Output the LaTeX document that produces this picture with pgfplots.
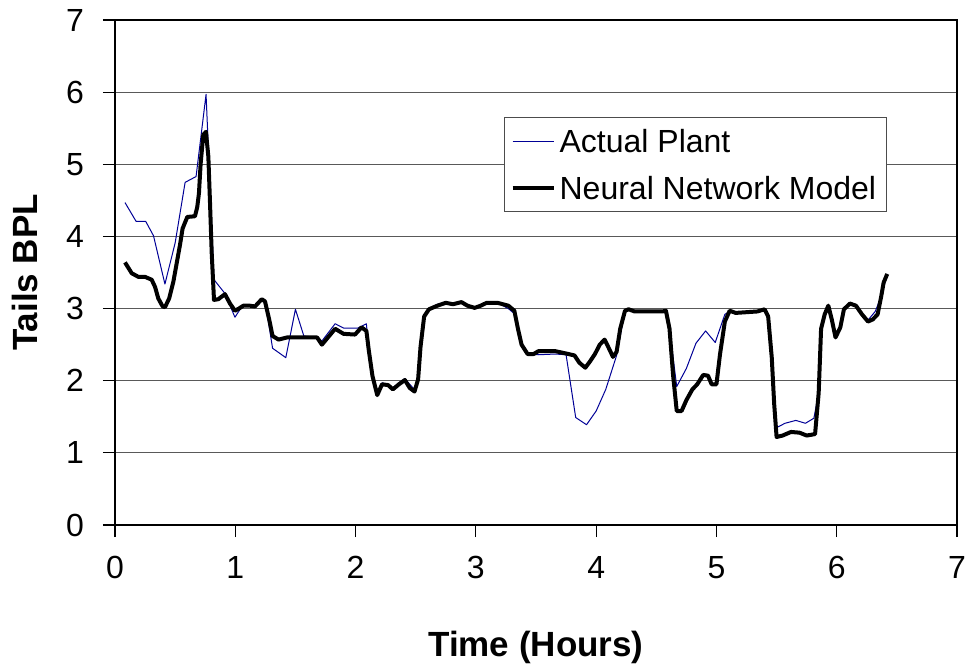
\documentclass[border=0pt]{standalone}
\usepackage{pgfplots}
\pgfplotsset{compat=1.18}
\usepackage{fontspec}
\setmainfont{Liberation Sans}
\definecolor{plantblue}{RGB}{0,0,150}
\begin{document}
\begin{tikzpicture}
\useasboundingbox (0,0) rectangle (483.5pt,332.5pt);
\begin{axis}[
  at={(57.5pt,70pt)}, anchor=south west,
  scale only axis, width=421pt, height=252.5pt,
  xmin=0, xmax=7, ymin=0, ymax=7,
  xtick={0,...,7}, ytick={0,...,7},
  tick align=outside, xtick pos=left, ytick pos=left,
  major tick length=6pt,
  tick style={black, line width=0.6pt},
  axis line style={black, line width=0.6pt},
  ymajorgrids, grid style={black!65, line width=0.6pt},
  /pgf/number format/assume math mode=true,
  ticklabel style={font=\fontsize{16}{19}\selectfont},
  xticklabel style={yshift=-6pt},
  yticklabel style={xshift=-6pt},
  xlabel={\textbf{Time (Hours)}},
  ylabel={\textbf{Tails BPL}},
  label style={font=\fontsize{17.5}{21}\selectfont},
  xlabel style={at={(axis description cs:0.5,-0.2607)}, anchor=base},
  ylabel style={at={(axis description cs:-0.0926,0.5)}, anchor=base},
  legend style={at={(axis description cs:0.462,0.808)}, anchor=north west,
    font=\fontsize{16}{19}\selectfont, draw=black!70, line width=0.6pt,
    fill=white, inner xsep=3pt, inner ysep=4pt, row sep=8pt,
    nodes={inner sep=2pt, text height=11.5pt, text depth=0pt}},
  legend cell align=left,
  legend image code/.code={\draw[#1] (0pt,0pt) -- (20.5pt,0pt);},
]
\addplot[plantblue, line width=0.5pt, line join=round] coordinates {
(0.083,4.47)(0.175,4.21)(0.255,4.21)(0.320,4.01)(0.415,3.34)(0.500,3.91)
(0.583,4.75)(0.674,4.83)(0.757,5.97)(0.823,3.40)(0.914,3.21)(0.997,2.88)
(1.06,3.04)(1.09,3.04)(1.164,3.03)(1.22,3.11)(1.25,3.08)(1.31,2.45)
(1.42,2.32)(1.50,2.99)(1.57,2.62)(1.68,2.60)(1.72,2.55)(1.83,2.79)
(1.90,2.73)(2.02,2.73)(2.09,2.79)(2.11,2.42)(2.14,2.07)(2.18,1.82)
(2.22,1.97)(2.27,1.95)(2.31,1.90)(2.36,1.97)(2.41,2.03)(2.45,1.95)
(2.49,1.88)(2.52,2.02)(2.54,2.47)(2.57,2.89)(2.61,3.00)(2.68,3.06)
(2.75,3.09)(2.81,3.07)(2.88,3.10)(2.93,3.05)(2.99,3.02)(3.04,3.05)
(3.09,3.08)(3.18,3.08)(3.27,3.00)(3.32,2.93)(3.35,2.70)(3.38,2.48)
(3.43,2.37)(3.52,2.36)(3.66,2.37)(3.75,2.36)(3.83,1.49)(3.92,1.39)
(4.00,1.58)(4.08,1.88)(4.17,2.35)(4.24,2.97)(4.27,2.98)(4.32,2.95)
(4.55,2.95)(4.58,2.96)(4.61,2.72)(4.67,1.92)(4.75,2.17)(4.83,2.52)
(4.91,2.69)(4.99,2.53)(5.07,2.92)(5.11,2.96)(5.16,2.93)(5.34,2.95)
(5.40,2.98)(5.43,2.89)(5.46,2.32)(5.50,1.35)(5.57,1.41)(5.66,1.45)
(5.74,1.41)(5.81,1.48)(5.85,1.83)(5.87,2.72)(5.90,2.92)(5.93,3.04)
(5.96,2.84)(5.99,2.60)(6.03,2.74)(6.06,2.99)(6.11,3.06)(6.16,3.03)
(6.21,2.90)(6.26,2.84)(6.32,2.96)(6.37,3.17)(6.42,3.48)
};
\addlegendentry{Actual Plant}
\addplot[black, line width=2pt, line join=round] coordinates {
(0.083,3.64)(0.139,3.49)(0.194,3.44)(0.249,3.44)(0.305,3.40)(0.333,3.30)
(0.360,3.14)(0.396,3.03)(0.416,3.02)(0.450,3.14)(0.485,3.37)(0.513,3.63)
(0.540,3.88)(0.562,4.11)(0.601,4.27)(0.665,4.28)(0.684,4.41)(0.698,4.60)
(0.712,5.01)(0.734,5.41)(0.756,5.45)(0.776,5.11)(0.790,4.46)(0.804,3.77)
(0.823,3.12)(0.859,3.13)(0.914,3.20)(0.956,3.07)(0.997,2.97)(1.030,3.00)
(1.067,3.04)(1.122,3.04)(1.164,3.03)(1.220,3.13)(1.247,3.10)(1.283,2.84)
(1.31,2.62)(1.36,2.57)(1.43,2.60)(1.68,2.60)(1.72,2.50)(1.77,2.60)
(1.83,2.72)(1.90,2.65)(1.995,2.64)(2.05,2.74)(2.09,2.69)(2.11,2.42)
(2.14,2.07)(2.18,1.80)(2.22,1.95)(2.27,1.94)(2.31,1.88)(2.36,1.95)
(2.41,2.01)(2.45,1.90)(2.49,1.85)(2.52,2.02)(2.54,2.47)(2.57,2.89)
(2.61,2.99)(2.68,3.04)(2.75,3.08)(2.81,3.06)(2.88,3.09)(2.93,3.04)
(2.99,3.01)(3.04,3.04)(3.09,3.08)(3.18,3.08)(3.27,3.04)(3.32,2.97)
(3.35,2.72)(3.38,2.50)(3.43,2.37)(3.48,2.37)(3.52,2.41)(3.66,2.41)
(3.77,2.37)(3.82,2.35)(3.86,2.25)(3.91,2.18)(3.95,2.27)(3.99,2.37)
(4.03,2.50)(4.07,2.57)(4.10,2.47)(4.14,2.33)(4.17,2.40)(4.20,2.72)
(4.24,2.97)(4.27,2.99)(4.32,2.96)(4.55,2.96)(4.58,2.97)(4.61,2.72)
(4.64,2.07)(4.67,1.58)(4.71,1.58)(4.75,1.73)(4.80,1.88)(4.84,1.95)
(4.89,2.08)(4.93,2.07)(4.96,1.95)(5.00,1.95)(5.03,2.37)(5.07,2.82)
(5.11,2.97)(5.16,2.94)(5.34,2.96)(5.40,2.99)(5.43,2.89)(5.46,2.32)
(5.48,1.68)(5.50,1.22)(5.55,1.24)(5.62,1.29)(5.69,1.28)(5.75,1.24)
(5.82,1.26)(5.85,1.83)(5.87,2.72)(5.90,2.92)(5.93,3.04)(5.96,2.84)
(5.99,2.60)(6.03,2.74)(6.06,2.99)(6.11,3.07)(6.16,3.04)(6.21,2.92)
(6.26,2.82)(6.30,2.85)(6.34,2.92)(6.37,3.17)(6.39,3.36)(6.42,3.48)
};
\addlegendentry{Neural Network Model}
\end{axis}
\end{tikzpicture}
\end{document}
